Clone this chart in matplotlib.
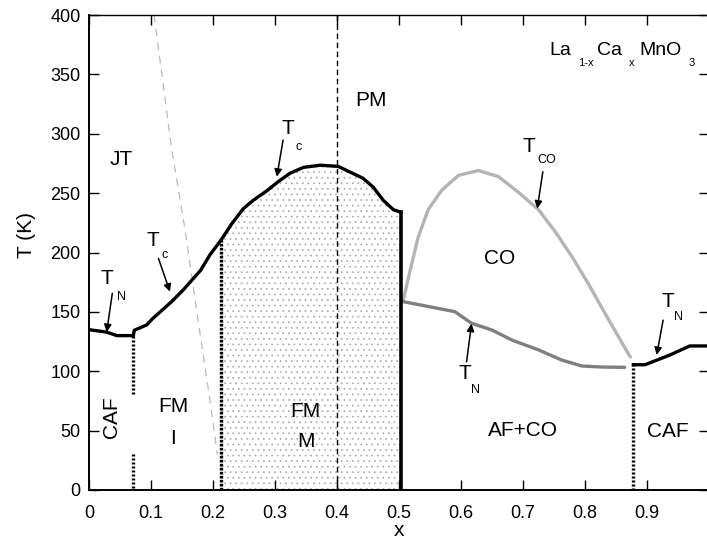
import numpy as np
import matplotlib
matplotlib.use("Agg")
import matplotlib.pyplot as plt

plt.rcParams['font.family'] = ['Liberation Sans', 'DejaVu Sans']
plt.rcParams['hatch.linewidth'] = 0.5

# --- phase boundaries of La(1-x)Ca(x)MnO3 ---
# Tc / TN boundary (black, low doping side)
tc_x = [0.0, 0.028, 0.045, 0.0715, 0.073, 0.093, 0.103, 0.133, 0.152, 0.18, 0.195,
        0.213, 0.23, 0.249, 0.265, 0.287, 0.305, 0.324, 0.346, 0.373, 0.402,
        0.442, 0.4585, 0.4745, 0.491, 0.503]
tc_T = [135, 133, 130, 130, 134.5, 139, 144.5, 158.5, 168.5, 185, 198,
        210.5, 224, 237, 244, 252, 259.6, 266.7, 271.7, 273.5, 272.5,
        262.5, 255, 244, 236, 234]

# charge-order transition T_CO
tco_x = [0.507, 0.518, 0.531, 0.547, 0.569, 0.596, 0.628, 0.660, 0.692,
         0.725, 0.752, 0.779, 0.805, 0.832, 0.854, 0.873]
tco_T = [160, 185, 213, 236, 252.5, 265, 269, 264, 251, 236, 217.5,
         196.5, 174, 149, 129, 112]

# Neel temperature in the AF+CO region
tnco_x = [0.507, 0.590, 0.617, 0.650, 0.682, 0.725, 0.762, 0.795, 0.830, 0.864]
tnco_T = [158.6, 150.2, 140.4, 134.7, 126.3, 118, 109.5, 104.4, 103.5, 103.3]

# Neel temperature of the high-doping CAF phase
tnh_x = [0.878, 0.897, 0.937, 0.969, 1.0]
tnh_T = [105.5, 105.5, 113.7, 121.3, 121.3]

# Jahn-Teller crossover (grey dashed)
jt_x = [0.105, 0.133, 0.155, 0.179, 0.195, 0.207]
jt_T = [400, 288, 219, 132, 76, 30]

# vertical phase boundaries
x_caf_low = 0.0715
x_fmi = 0.213
x_fmm_end = 0.503
x_pm = 0.4
x_caf_high = 0.878

x_ticks = [0, 0.1, 0.2, 0.3, 0.4, 0.5, 0.6, 0.7, 0.8, 0.9, 1.0]
x_ticklabels = ['0', '0.1', '0.2', '0.3', '0.4', '0.5', '0.6', '0.7', '0.8', '0.9', '']
y_ticks = [0, 50, 100, 150, 200, 250, 300, 350, 400]

fig = plt.figure(figsize=(7.07, 5.46), dpi=100)
ax = fig.add_axes([89 / 707, 56 / 546, 620 / 707, 475 / 546])
ax.set_xlim(0, 1.0)
ax.set_ylim(0, 400)

# stippled ferromagnetic-metal region
tcx = np.array(tc_x)
tcT = np.array(tc_T)
m = (tcx >= x_fmi) & (tcx <= x_fmm_end)
ax.fill_between(tcx[m], 0, tcT[m], facecolor='white', edgecolor='#a8a8a8',
                hatch='...', linewidth=0, zorder=1)

ax.plot(jt_x, jt_T, color='#b8b8b8', lw=0.9, ls=(0, (6, 5)), zorder=2)
ax.axvline(x_pm, color='black', lw=1.0, ls=(0, (4, 2.5)), zorder=3)

ax.plot(tco_x, tco_T, color='#b4b4b4', lw=2.4, zorder=3,
        solid_capstyle='round', solid_joinstyle='round')
ax.plot(tnco_x, tnco_T, color='#7f7f7f', lw=2.4, zorder=3,
        solid_capstyle='round', solid_joinstyle='round')
ax.plot(tc_x, tc_T, color='black', lw=2.4, zorder=4, solid_joinstyle='round')
ax.plot(tnh_x, tnh_T, color='black', lw=2.4, zorder=4)

# vertical boundaries
ax.plot([x_caf_low, x_caf_low], [130, 80], color='black', lw=2.4,
        ls=(0, (0.6, 0.6)), zorder=4)
ax.plot([x_caf_low, x_caf_low], [30, 0], color='black', lw=2.4,
        ls=(0, (0.6, 0.6)), zorder=4)
ax.plot([x_fmi, x_fmi], [0, 210.5], color='black', lw=2.4,
        ls=(0, (0.8, 0.4)), zorder=4)
ax.plot([x_fmm_end, x_fmm_end], [0, 234], color='black', lw=2.6, zorder=4)
ax.plot([x_caf_high, x_caf_high], [0, 105.5], color='black', lw=2.4,
        ls=(0, (0.6, 0.6)), zorder=4)

# region labels
fs = 15
ax.text(0.0527, 278, 'JT', fontsize=fs, ha='center', va='center')
ax.text(0.455, 328, 'PM', fontsize=fs, ha='center', va='center')
ax.text(0.663, 195, 'CO', fontsize=fs, ha='center', va='center')
ax.text(0.7005, 50.5, 'AF+CO', fontsize=fs, ha='center', va='center')
ax.text(0.934, 49, 'CAF', fontsize=fs, ha='center', va='center')
ax.text(0.0366, 61.7, 'CAF', fontsize=fs, ha='center', va='center', rotation=90)
ax.text(0.136, 70, 'FM', fontsize=fs, ha='center', va='center')
ax.text(0.136, 43.5, 'I', fontsize=fs, ha='center', va='center')
ax.text(0.3495, 66, 'FM', fontsize=fs, ha='center', va='center')
ax.text(0.3495, 40.7, 'M', fontsize=fs, ha='center', va='center')

# transition-temperature labels with arrows
def temp_label(xy, sub, dxy, tail, tip):
    ax.text(xy[0], xy[1], 'T', fontsize=15, ha='center', va='center')
    ax.annotate(sub, xy=xy, xytext=dxy, textcoords='offset points',
                fontsize=9, ha='center', va='center')
    ax.annotate('', xy=tip, xytext=tail,
                arrowprops=dict(arrowstyle='-|>', color='black', lw=1.1,
                                mutation_scale=11, shrinkA=0, shrinkB=0))

temp_label((0.0285, 178.3), 'N', (10.8, -13.2), (0.0376, 165.6), (0.0285, 133))
temp_label((0.1037, 210.5), 'c', (8.4, -10.8), (0.112, 195), (0.1306, 167))
temp_label((0.3215, 304.6), 'c', (7.2, -13.2), (0.313, 294.7), (0.303, 263.8))
temp_label((0.7097, 289.1), 'CO', (12.7, -9.6), (0.732, 268), (0.723, 237))
temp_label((0.6065, 98.3), 'N', (7.2, -12.0), (0.609, 108), (0.617, 140))
temp_label((0.9344, 158.6), 'N', (7.2, -10.8), (0.926, 143), (0.9156, 113.7))

# compound formula
ax.text(0.7597, 366.3, 'La', fontsize=14, ha='center', va='baseline')
ax.text(0.8013, 357, '1-x', fontsize=8, ha='center', va='baseline')
ax.text(0.8403, 366.3, 'Ca', fontsize=14, ha='center', va='baseline')
ax.text(0.8753, 357, 'x', fontsize=8, ha='center', va='baseline')
ax.text(0.9223, 366.3, 'MnO', fontsize=14, ha='center', va='baseline')
ax.text(0.9721, 357, '3', fontsize=8, ha='center', va='baseline')

ax.set_xticks(x_ticks)
ax.set_xticklabels(x_ticklabels)
ax.set_yticks(y_ticks)
ax.tick_params(direction='in', top=True, right=True, length=7.5, width=1.0,
               labelsize=13)
ax.tick_params(axis='x', pad=11)
ax.tick_params(axis='y', pad=6)

ax.set_xlabel('x', fontsize=15)
ax.xaxis.set_label_coords(0.5, -0.066)
ax.set_ylabel('T (K)', fontsize=15)
ax.yaxis.set_label_coords(-0.085, 0.537)

for s in ['left', 'bottom']:
    ax.spines[s].set_linewidth(1.4)
ax.spines['top'].set_linewidth(1.0)
ax.spines['right'].set_visible(False)

fig.savefig('out.png', dpi=100)
